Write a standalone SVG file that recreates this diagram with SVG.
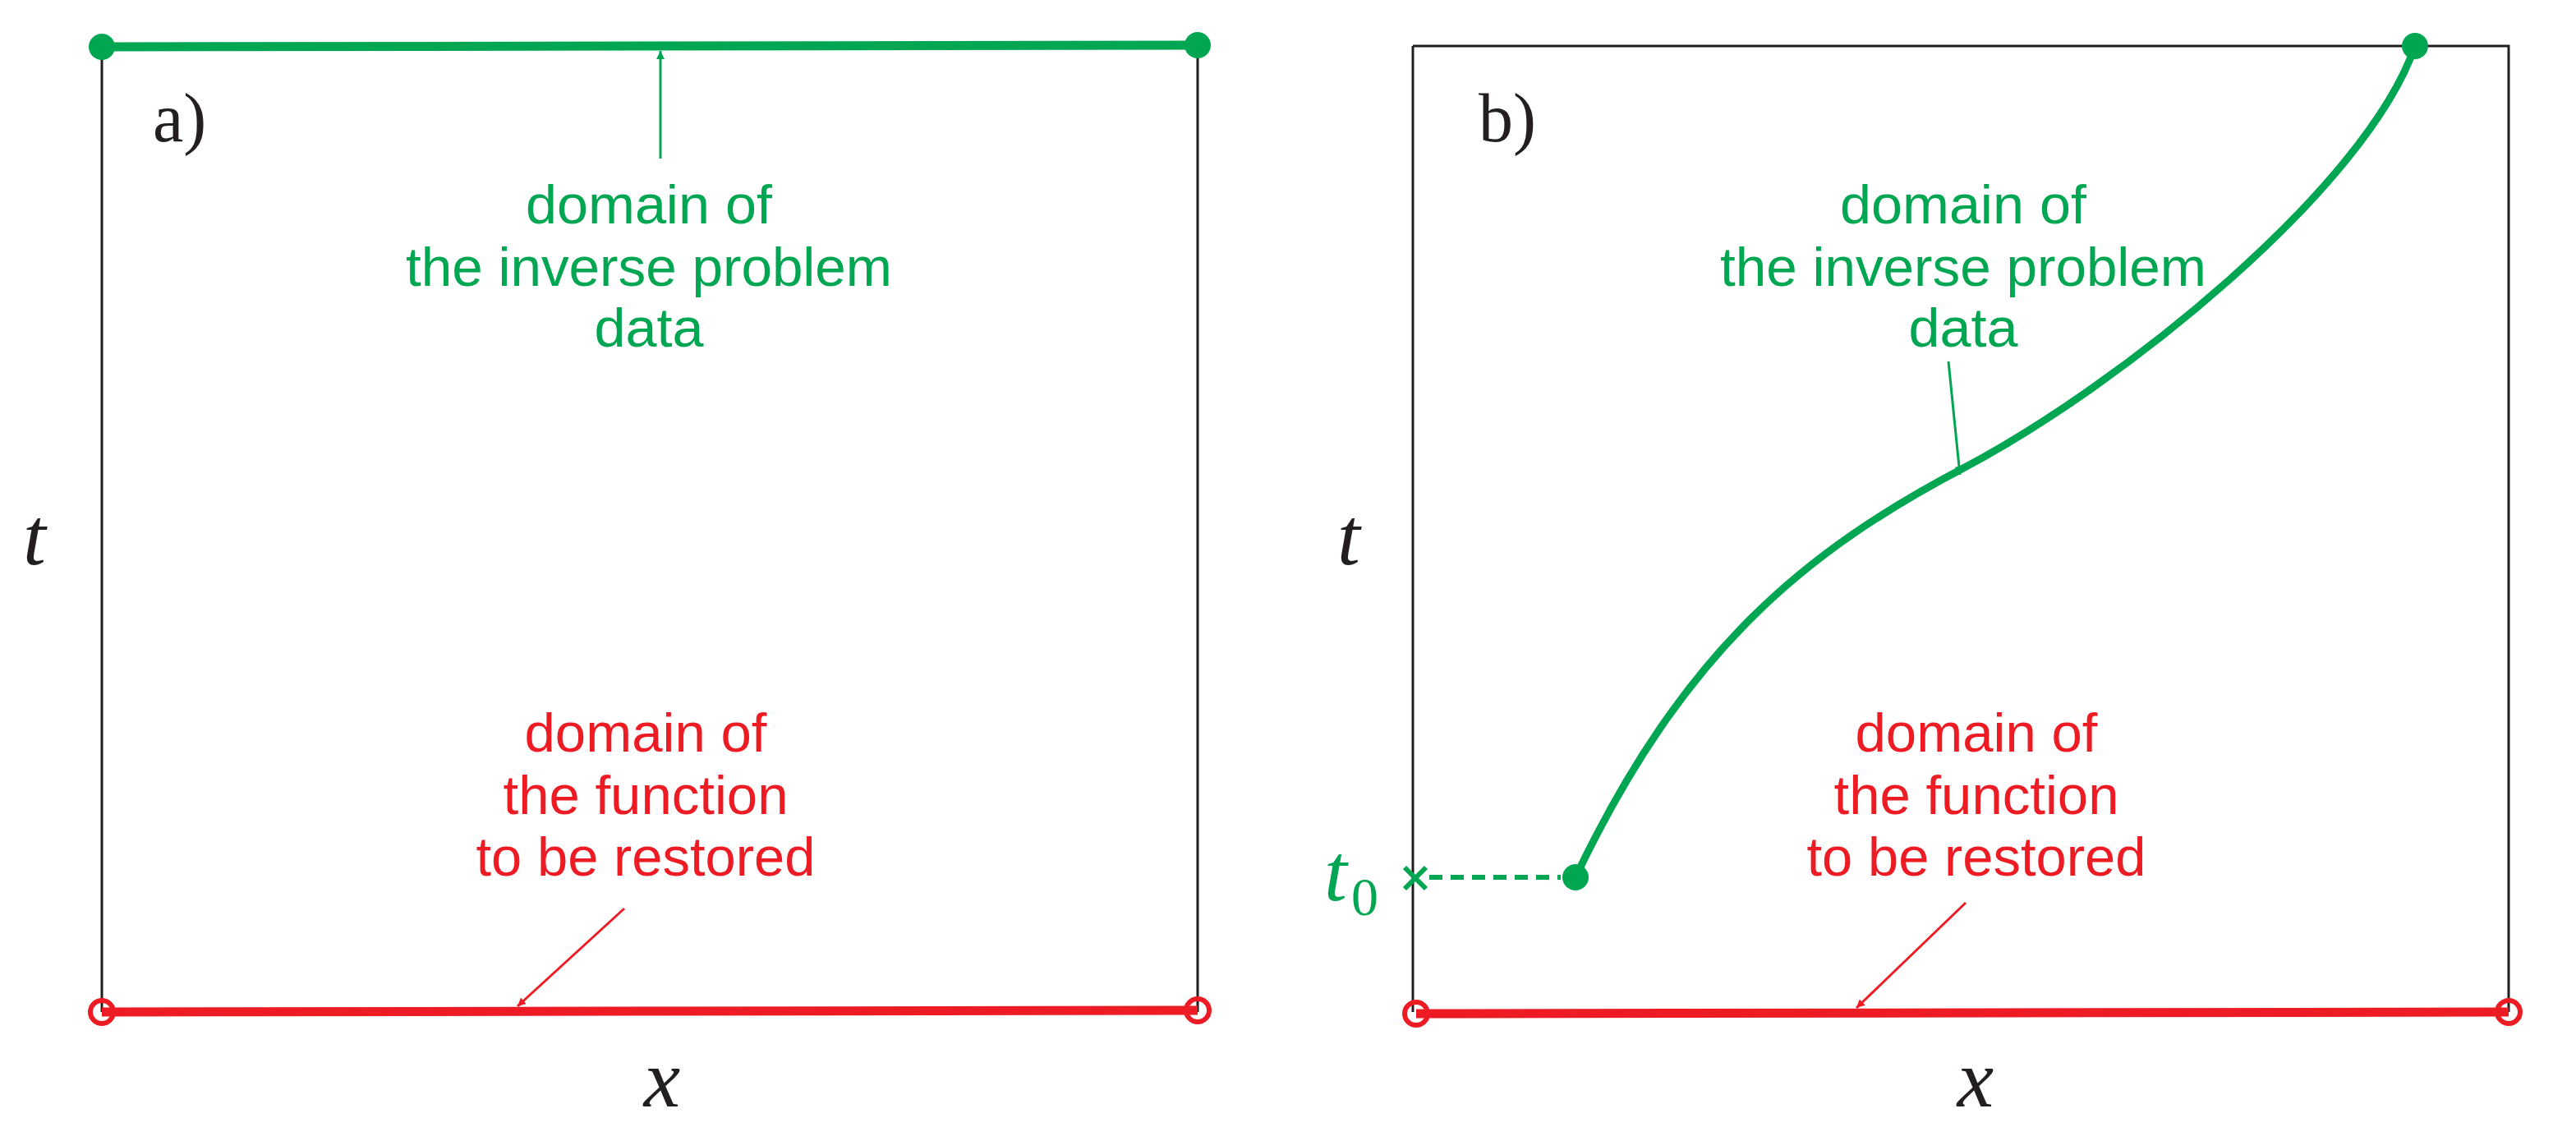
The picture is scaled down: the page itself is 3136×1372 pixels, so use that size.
<svg xmlns="http://www.w3.org/2000/svg" width="3136" height="1372" viewBox="0 0 3136 1372">
<style>
.frame{stroke:#231f20;stroke-width:3;fill:none}
.g{stroke:#00a651;fill:none}
.r{stroke:#ed1c24;fill:none}
.gt{fill:#00a651;font-family:"Liberation Sans",Arial,sans-serif;font-size:66px;text-anchor:middle}
.rt{fill:#ed1c24;font-family:"Liberation Sans",Arial,sans-serif;font-size:66px;text-anchor:middle}
.lab{fill:#231f20;font-family:"Liberation Serif","Times New Roman",serif;font-size:84px}
.math{fill:#231f20;font-family:"Liberation Serif","Times New Roman",serif;font-style:italic;font-size:100px;text-anchor:middle}
</style>
<defs>
<marker id="ag" viewBox="0 0 10 10" refX="10" refY="5" markerWidth="10" markerHeight="10" markerUnits="userSpaceOnUse" orient="auto"><path d="M0,0 L10,5 L0,10 z" fill="#00a651"/></marker>
<marker id="ar" viewBox="0 0 10 10" refX="10" refY="5" markerWidth="10" markerHeight="10" markerUnits="userSpaceOnUse" orient="auto"><path d="M0,0 L10,5 L0,10 z" fill="#ed1c24"/></marker>
</defs>
<g id="panel-a">
<path class="frame" d="M124,56 V1232 M1458,56 V1232"/>
<line class="g" x1="124" y1="57" x2="1458" y2="55" stroke-width="11"/>
<circle cx="124" cy="57" r="16" fill="#00a651"/>
<circle cx="1458" cy="55" r="16" fill="#00a651"/>
<line class="r" x1="124" y1="1232" x2="1458" y2="1230" stroke-width="11"/>
<circle cx="124" cy="1232" r="14" fill="#fff" class="r" stroke-width="6"/>
<circle cx="1458" cy="1230" r="14" fill="#fff" class="r" stroke-width="6"/>
<text class="lab" x="186" y="172">a)</text>
<text class="math" x="42" y="687">t</text>
<text class="math" x="806" y="1347">x</text>
<text class="gt" x="790" y="272" textLength="300" lengthAdjust="spacingAndGlyphs">domain of</text>
<text class="gt" x="790" y="348" textLength="592" lengthAdjust="spacingAndGlyphs">the inverse problem</text>
<text class="gt" x="790" y="422" textLength="133" lengthAdjust="spacingAndGlyphs">data</text>
<text class="rt" x="786" y="915" textLength="295" lengthAdjust="spacingAndGlyphs">domain of</text>
<text class="rt" x="786" y="991" textLength="347" lengthAdjust="spacingAndGlyphs">the function</text>
<text class="rt" x="786" y="1066" textLength="413" lengthAdjust="spacingAndGlyphs">to be restored</text>
</g>
<g id="panel-b">
<path class="frame" d="M1720,56 H3054 V1232 M1720,56 V1232"/>
<path class="g" stroke-width="9" d="M1918,1068 C2050,790 2200,670 2390,570 S2880,230 2940,56"/>
<circle cx="2940" cy="56" r="16" fill="#00a651"/>
<circle cx="1918" cy="1068" r="16" fill="#00a651"/>
<line class="g" x1="1740" y1="1068" x2="1900" y2="1068" stroke-width="6" stroke-dasharray="16,10"/>
<path class="g" stroke-width="6" d="M1710,1056 L1736,1082 M1736,1056 L1710,1082"/>
<text x="1612" y="1096" fill="#00a651" font-family="Liberation Serif,serif" font-style="italic" font-size="100">t</text>
<text x="1645" y="1114" fill="#00a651" font-family="Liberation Serif,serif" font-size="66">0</text>
<line class="r" x1="1724" y1="1234" x2="3054" y2="1232" stroke-width="11"/>
<circle cx="1724" cy="1234" r="14" fill="#fff" class="r" stroke-width="6"/>
<circle cx="3054" cy="1232" r="14" fill="#fff" class="r" stroke-width="6"/>
<text class="lab" x="1800" y="172">b)</text>
<text class="math" x="1642" y="687">t</text>
<text class="math" x="2405" y="1347">x</text>
<text class="gt" x="2390" y="272" textLength="300" lengthAdjust="spacingAndGlyphs">domain of</text>
<text class="gt" x="2390" y="348" textLength="592" lengthAdjust="spacingAndGlyphs">the inverse problem</text>
<text class="gt" x="2390" y="422" textLength="133" lengthAdjust="spacingAndGlyphs">data</text>
<text class="rt" x="2406" y="915" textLength="295" lengthAdjust="spacingAndGlyphs">domain of</text>
<text class="rt" x="2406" y="991" textLength="347" lengthAdjust="spacingAndGlyphs">the function</text>
<text class="rt" x="2406" y="1066" textLength="413" lengthAdjust="spacingAndGlyphs">to be restored</text>
</g>
<g id="connectors">
<line class="g" x1="804" y1="193" x2="804" y2="62" stroke-width="3" marker-end="url(#ag)"/>
<line class="g" x1="2372" y1="440" x2="2386" y2="578" stroke-width="3" marker-end="url(#ag)"/>
<line class="r" x1="760" y1="1106" x2="630" y2="1225" stroke-width="3" marker-end="url(#ar)"/>
<line class="r" x1="2393" y1="1099" x2="2260" y2="1227" stroke-width="3" marker-end="url(#ar)"/>
</g>
</svg>
